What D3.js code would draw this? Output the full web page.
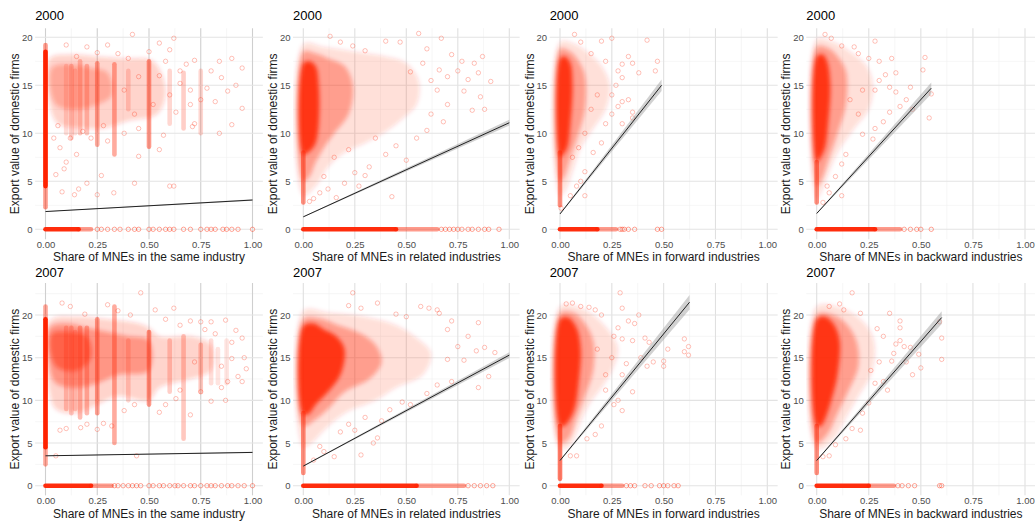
<!DOCTYPE html>
<html>
<head>
<meta charset="utf-8">
<script src="https://cdn.jsdelivr.net/npm/d3@7"></script>
<style>
  body { margin: 0; background: #fff; }
  text { font-family: "Liberation Sans", Arial, sans-serif; }
</style>
</head>
<body>
<svg width="1035" height="522"></svg>
<script>
const d3 = window.d3

// ---- data (panel order: 2000 row, then 2007 row) ----
let years = ['2000', '2000', '2000', '2000', '2007', '2007', '2007', '2007']
let xTitles = [
  'Share of MNEs in the same industry',
  'Share of MNEs in related industries',
  'Share of MNEs in forward industries',
  'Share of MNEs in backward industries'
]
let yTitle = 'Export value of domestic firms'
let xTicks = [0, 0.25, 0.5, 0.75, 1]
let yTicks = [0, 5, 10, 15, 20]

// fitted line: x0, y0, x1, y1, band half-width at x0 and at x1
let fits = [
  [0, 1.85, 1, 3.05, 0.03, 0.08],
  [0, 1.3, 1, 11.1, 0.04, 0.3],
  [0, 1.6, 0.49, 15.0, 0.05, 0.6],
  [0, 1.65, 0.55, 14.7, 0.05, 0.6],
  [0, 3.5, 1, 3.9, 0.03, 0.08],
  [0, 2.3, 1, 15.3, 0.04, 0.35],
  [0, 2.95, 0.625, 21.5, 0.05, 0.85],
  [0, 2.95, 0.6, 19.7, 0.05, 0.75]
]

// firms with zero exports: solid run end, faded run end, then single points
let zeroRuns = [[0.16, 0.22], [0.45, 0.65], [0.18, 0.27], [0.28, 0.4],
                [0.22, 0.32], [0.55, 0.78], [0.2, 0.3], [0.25, 0.37]]
let zeroPts = [
  [0.25, 0.27, 0.3, 0.333, 0.36, 0.4, 0.43, 0.45, 0.5, 0.52, 0.55, 0.58, 0.6, 0.62, 0.667, 0.7, 0.75, 0.78, 0.8, 0.82, 0.857, 0.875, 0.9, 0.93, 1],
  [0.67, 0.69, 0.71, 0.73, 0.75, 0.77, 0.8, 0.82, 0.85, 0.88, 0.9, 0.95],
  [0.29, 0.3, 0.31, 0.33, 0.36, 0.47, 0.49],
  [0.42, 0.45, 0.48, 0.5, 0.55],
  [0.333, 0.35, 0.375, 0.4, 0.42, 0.44, 0.46, 0.5, 0.52, 0.55, 0.57, 0.6, 0.625, 0.64, 0.667, 0.7, 0.72, 0.75, 0.78, 0.8, 0.82, 0.85, 0.88, 0.9, 0.93, 0.96, 1],
  [0.8, 0.83, 0.86, 0.89, 0.92],
  [0.32, 0.34, 0.36, 0.41, 0.44, 0.48, 0.5, 0.52, 0.55, 0.57],
  [0.39, 0.41, 0.44, 0.47, 0.59, 0.6]
]

// dense parts of each cloud: [opacity, x,y, x,y, ...]
let clouds = [
  [[0.2, [0.02,17.8, 0.12,18.2, 0.25,18, 0.38,17.8, 0.52,17.5, 0.58,14.5, 0.54,12, 0.4,11.3, 0.28,10.5, 0.15,10.6, 0.06,11, 0.02,13]],
   [0.25, [0.03,16.8, 0.12,17.2, 0.22,16.8, 0.3,16.3, 0.32,14, 0.25,13, 0.15,12.5, 0.05,13]]],
  [[0.15, [0,19.3, 0.1,19, 0.25,18.5, 0.4,18, 0.5,17.3, 0.56,15.5, 0.55,13, 0.48,11.5, 0.4,10.2, 0.3,9, 0.2,8, 0.12,6.5, 0.06,4.5, 0,3.5]],
   [0.35, [0,18.5, 0.06,18.3, 0.12,17.8, 0.2,17, 0.24,15, 0.22,12, 0.15,10, 0.1,8.5, 0.06,7, 0.03,5.5, 0,5]],
   [0.85, [0,17.3, 0.03,17.5, 0.06,17, 0.075,15, 0.075,11, 0.06,9, 0.035,8.2, 0,7.8]]],
  [[0.15, [0,19.5, 0.08,19.2, 0.14,18.3, 0.2,17, 0.24,15, 0.22,12.5, 0.16,10.5, 0.1,8.5, 0.06,6, 0.03,4.2, 0,3.5]],
   [0.35, [0,18.8, 0.05,18.5, 0.09,17.5, 0.12,16, 0.12,12.5, 0.09,10, 0.05,7.5, 0.02,5.5, 0,5]],
   [0.85, [0,17.8, 0.025,18, 0.05,17.3, 0.06,15, 0.05,11, 0.035,8.5, 0.015,7.8, 0,7.5]]],
  [[0.15, [0,19.8, 0.08,19.5, 0.16,18.5, 0.24,17, 0.27,15, 0.25,12.5, 0.18,10.5, 0.1,8, 0.05,5.5, 0.02,3.8, 0,3.2]],
   [0.35, [0,19, 0.06,18.8, 0.1,18, 0.14,16.5, 0.14,13, 0.1,10, 0.06,7.5, 0.02,5, 0,4.5]],
   [0.85, [0,18, 0.03,18.2, 0.05,17.5, 0.065,15, 0.055,11, 0.04,8.5, 0.02,7.5, 0,7]]],
  [[0.2, [0.02,19.3, 0.15,19.8, 0.3,19.5, 0.45,19, 0.5,18.5, 0.55,17.5, 0.7,17.5, 0.8,16.5, 0.8,13.5, 0.7,12.5, 0.55,11.5, 0.5,10, 0.35,10.5, 0.25,9.5, 0.15,8.5, 0.05,9, 0.02,11]],
   [0.35, [0.02,18.5, 0.1,19, 0.2,18.5, 0.3,18, 0.4,17.5, 0.5,17, 0.5,13.5, 0.35,13, 0.25,12, 0.15,11.5, 0.05,12, 0.02,14]],
   [0.45, [0.03,17.8, 0.12,18, 0.2,17.5, 0.22,15, 0.15,13.5, 0.05,14]]],
  [[0.15, [0,20.5, 0.12,20.3, 0.3,19.8, 0.45,18.8, 0.55,17.3, 0.62,15.5, 0.58,13, 0.45,11.5, 0.35,10, 0.2,8.5, 0.1,6.5, 0.04,5, 0,4.5]],
   [0.35, [0,19.5, 0.08,19.6, 0.18,18.7, 0.28,17.8, 0.35,16.5, 0.38,14.5, 0.32,12.5, 0.2,11, 0.12,9, 0.06,7.8, 0,7]],
   [0.85, [0,18.7, 0.05,19, 0.1,18.3, 0.16,17.5, 0.2,16, 0.18,13, 0.12,11, 0.06,9.5, 0.03,8.5, 0,8.3]]],
  [[0.15, [0,21, 0.1,20.8, 0.17,19.8, 0.24,18, 0.28,16, 0.25,13.5, 0.2,11.5, 0.14,9.5, 0.1,7.5, 0.05,4.8, 0,4.3]],
   [0.35, [0,20.2, 0.07,20.2, 0.12,19, 0.16,17, 0.16,13.5, 0.12,10.5, 0.08,8, 0.04,5.5, 0,5]],
   [0.85, [0,19.5, 0.04,19.7, 0.08,18.5, 0.1,16, 0.09,12, 0.07,9, 0.04,7.5, 0.02,7, 0,7]]],
  [[0.15, [0,21, 0.12,20.8, 0.2,19.7, 0.26,18, 0.28,16, 0.26,13, 0.2,10.5, 0.14,8, 0.08,5.5, 0,4.3]],
   [0.35, [0,20, 0.08,20, 0.14,19, 0.19,17, 0.2,14, 0.15,11, 0.1,8.5, 0.05,6, 0,5]],
   [0.85, [0,19.5, 0.04,19.8, 0.08,19, 0.11,17, 0.1,13, 0.07,10, 0.04,7.8, 0.02,7, 0,7]]]
]

// columns of stacked points at common shares: [x, yFrom, yTo, opacity]
let stripes = [
  [[0, 2.3, 19.2, 0.45], [0, 4.5, 18.5, 1], [0.1, 10, 17, 0.15], [0.125, 9.5, 17, 0.22], [0.143, 10, 16.5, 0.15],
   [0.167, 10, 17.5, 0.25], [0.2, 10, 17, 0.25], [0.25, 8.8, 17.3, 0.38], [0.333, 7.8, 17.2, 0.38], [0.4, 12.5, 16.5, 0.18],
   [0.5, 8.6, 17.5, 0.45], [0.6, 11, 16.5, 0.18], [0.667, 10.5, 16.3, 0.22], [0.75, 10, 16.5, 0.18]],
  [[0, 2.8, 8, 0.5]],
  [[0, 2.5, 8, 0.5]],
  [[0, 2.8, 7, 0.5]],
  [[0, 2.5, 21, 0.4], [0, 4.5, 19.5, 1], [0.1, 9, 18.5, 0.22], [0.125, 8.5, 18.5, 0.22], [0.143, 9, 18, 0.18],
   [0.167, 8, 18.5, 0.3], [0.2, 8.5, 18.5, 0.3], [0.25, 8.5, 19.5, 0.42], [0.333, 5, 21, 0.38], [0.4, 10, 17, 0.18],
   [0.5, 9.5, 18, 0.45], [0.6, 11, 17, 0.22], [0.667, 5.5, 17.5, 0.25], [0.75, 11, 16.5, 0.25], [0.8, 12, 17, 0.15],
   [0.833, 12, 16, 0.12], [0.875, 12, 17, 0.12]],
  [[0, 1.5, 8.5, 0.5]],
  [[0, 0.8, 7, 0.6]],
  [[0, 1.5, 7, 0.5]]
]

// sparse single firms: x,y pairs
let scatter = [
  [0.42,20.3, 0.62,19.9, 0.55,19.4, 0.3,19.2, 0.2,19.0, 0.1,19.2, 0.6,18.7, 0.72,17.6, 0.84,17.5, 0.95,16.8, 0.9,17.8,
   0.8,16.5, 0.85,15.8, 0.92,15, 0.78,14.7, 0.88,14.4, 0.95,12.6, 0.82,13.3, 0.7,13, 0.63,12.2, 0.72,11, 0.9,10.9,
   0.84,10, 0.71,10.7, 0.57,9.8, 0.45,10.5, 0.38,10, 0.3,9.2, 0.22,9.5, 0.12,9.5, 0.07,8.5, 0.1,7, 0.05,5.7, 0.09,6.3,
   0.15,7.8, 0.2,4.8, 0.25,3.6, 0.33,3.8, 0.43,4.8, 0.6,4.5, 0.62,4.5, 0.45,7.6, 0.55,8.3, 0.08,3.9, 0.14,3.6, 0.16,4.2,
   0.27,5.6, 0.38,14.5, 0.45,15.9, 0.55,16, 0.65,15.2, 0.75,13.5, 0.68,17.2, 0.58,17.5, 0.4,17.8, 0.35,18.3, 0.25,18.4,
   0.15,18.0, 0.5,18.5, 0.6,14, 0.65,16.5, 0.7,14.5, 0.52,13, 0.43,12, 0.28,10.8, 0.18,10.2, 0.06,10.8, 0.04,9.5],
  [0.56,20.4, 0.67,19.9, 0.13,20.1, 0.18,19.5, 0.4,19.6, 0.47,19.5, 0.6,18.8, 0.72,18.2, 0.87,18.0, 0.77,17.5, 0.83,17.3,
   0.85,16.3, 0.91,15.4, 0.8,15.6, 0.78,14.4, 0.86,13.8, 0.88,12.5, 0.82,12.4, 0.7,13, 0.65,14.5, 0.62,12.0, 0.68,11.2,
   0.6,10.3, 0.55,9.5, 0.45,8.7, 0.5,7.2, 0.4,7.8, 0.32,6.5, 0.3,5.6, 0.25,5.9, 0.2,4.8, 0.27,4.5, 0.43,3.4, 0.16,3.3,
   0.12,4.2, 0.08,3.8, 0.05,3.2, 0.03,2.9, 0.1,5.5, 0.15,7.5, 0.22,8.3, 0.35,9.5, 0.52,16.4, 0.58,17.3, 0.66,16.6,
   0.7,15.9, 0.75,16.5, 0.3,18.6, 0.24,19.1, 0.62,15.5],
  [0.42,19.7, 0.47,17.5, 0.46,16.5, 0.38,16.3, 0.35,17.3, 0.33,18.0, 0.3,17.2, 0.28,16.5, 0.3,15.8, 0.27,15, 0.25,14,
   0.3,13.3, 0.33,13.5, 0.35,12.2, 0.28,12.8, 0.25,12, 0.22,11, 0.3,11, 0.35,11.6, 0.2,9, 0.16,8, 0.12,6, 0.1,5,
   0.08,4.5, 0.05,3.5, 0.12,3.5, 0.25,19.9, 0.2,19.6, 0.1,19.5, 0.07,20.3, 0.15,18.3, 0.22,17.5, 0.18,14, 0.15,12.5,
   0.12,10, 0.09,8.5, 0.06,7.5, 0.005,2.2],
  [0.04,20.3, 0.07,19.9, 0.12,19.1, 0.18,19.0, 0.28,19.6, 0.2,18.3, 0.3,17.5, 0.25,17.8, 0.36,17.8, 0.38,16.3, 0.33,16.1,
   0.3,15.5, 0.28,14.5, 0.35,14.8, 0.38,14.3, 0.45,14.8, 0.52,17.9, 0.51,16.6, 0.55,14.1, 0.54,11.6, 0.46,12.5, 0.43,13.5,
   0.4,12.8, 0.35,12.2, 0.32,11.2, 0.28,10.5, 0.22,9.9, 0.27,9.4, 0.14,7.8, 0.12,6.8, 0.09,5.5, 0.05,4.5, 0.06,3.8,
   0.12,3.5, 0.03,2.8, 0.2,12, 0.16,13.5, 0.22,14.5],
  [0.46,22.6, 0.3,21.2, 0.53,20.6, 0.62,20.8, 0.08,21.4, 0.12,21, 0.19,20.1, 0.41,20, 0.35,20.5, 0.7,19.3, 0.75,19.2,
   0.8,19.2, 0.87,19.4, 0.92,18.2, 0.95,17.3, 0.9,16.8, 0.96,15, 0.9,14.9, 0.97,13.7, 0.93,12.8, 0.95,12.2, 0.88,12.2,
   0.85,11.5, 0.87,10, 0.8,9.9, 0.75,11, 0.7,8.3, 0.63,10.2, 0.55,8.6, 0.43,9.5, 0.38,8.8, 0.32,7, 0.25,6.6, 0.28,7.3,
   0.2,7.2, 0.17,6.8, 0.1,6.7, 0.07,6.5, 0.05,3.5, 0.44,3.5, 0.58,9.5, 0.65,11.2, 0.72,14.5, 0.85,14, 0.82,17.8,
   0.77,18.3, 0.65,18.8, 0.58,19.5],
  [0.24,22.6, 0.22,21.1, 0.28,20.8, 0.36,21.4, 0.57,21, 0.61,20.8, 0.65,20.6, 0.66,20.2, 0.45,20.1, 0.5,19.8, 0.72,19.3,
   0.85,19.1, 0.7,18.3, 0.8,17.5, 0.75,16.3, 0.88,16.2, 0.93,15.6, 0.84,15.8, 0.78,14.7, 0.7,14.8, 0.9,12.8, 0.85,11.5,
   0.72,12.2, 0.65,11.8, 0.6,10.8, 0.52,9.5, 0.48,9.8, 0.42,8.9, 0.38,7.6, 0.36,5.6, 0.34,5, 0.25,6.5, 0.28,3.6,
   0.15,3.4, 0.08,4.6, 0.1,4, 0.05,3, 0.18,6.3, 0.3,8, 0.22,7.2],
  [0.29,22.6, 0.03,21.3, 0.06,21.4, 0.1,21, 0.14,20.9, 0.17,20.6, 0.2,20, 0.3,20.8, 0.38,20, 0.33,19.3, 0.36,19,
   0.28,18.5, 0.26,17.5, 0.3,17.2, 0.35,17, 0.41,17.3, 0.43,16.8, 0.39,15, 0.42,14, 0.45,14.5, 0.5,14.6, 0.5,14,
   0.52,16, 0.6,17.2, 0.62,16.3, 0.62,15.3, 0.6,15.7, 0.32,14.3, 0.3,13, 0.35,11, 0.28,10, 0.3,8.8, 0.26,9.5, 0.22,11.2,
   0.2,7, 0.17,6, 0.13,5.5, 0.08,3.5, 0.05,3.5, 0.22,13, 0.25,15, 0.18,16],
  [0.17,22.6, 0.06,21, 0.11,21.3, 0.13,20.6, 0.21,20.2, 0.35,20.2, 0.4,19.3, 0.4,18.5, 0.29,18.4, 0.32,17.5, 0.4,17,
   0.42,16.3, 0.38,16.6, 0.45,16.2, 0.49,15.4, 0.59,19.2, 0.6,17.3, 0.6,14.8, 0.5,13.8, 0.46,13, 0.43,14.5, 0.36,14.6,
   0.3,14.5, 0.32,12.2, 0.34,11.2, 0.28,12, 0.25,9.7, 0.22,8.5, 0.21,6.5, 0.17,6.7, 0.14,5.5, 0.09,4.8, 0.06,3.5,
   0.03,3.4, 0.37,15.5, 0.26,13.5]
]

// ---- layout ----
let colZero = [45.5, 303.3, 560, 816.7]   // pixel of x = 0
let colUnit = [207, 206, 207.3, 208.3]    // pixels per unit share
let rowY = [[229.3, 37.3], [485.7, 315]]  // pixels of y = 0 and y = 20
let rowDomain = [[-1.04, 20.94], [-1.13, 23.75]]
let red = '#ff2200'

let svg = d3.select('svg')
let pairs = flat => d3.range(0, flat.length, 2).map(k => [flat[k], flat[k + 1]])

// soft edge for the dense parts of the clouds
svg.append('defs')
  .append('filter')
    .attr('id', 'soft')
    .attr('x', '-20%').attr('y', '-20%').attr('width', '140%').attr('height', '140%')
  .append('feGaussianBlur')
    .attr('stdDeviation', 2.2)

years.forEach((year, i) => {
  let col = i % 4
  let row = Math.floor(i / 4)

  let xScale = d3.scaleLinear()
                  .domain([0, 1])
                  .range([colZero[col], colZero[col] + colUnit[col]])
  let yScale = d3.scaleLinear()
                  .domain([0, 20])
                  .range(rowY[row])

  let left = xScale(-0.05)
  let right = xScale(1.05)
  let top = yScale(rowDomain[row][1])
  let bottom = yScale(rowDomain[row][0])

  let g = svg.append('g')

  // grid
  let minorX = [0.125, 0.375, 0.625, 0.875]
  let minorY = row === 0 ? [2.5, 7.5, 12.5, 17.5] : [2.5, 7.5, 12.5, 17.5, 22.5]
  g.selectAll('.mx').data(minorX).enter().append('line')
      .attr('x1', d => xScale(d)).attr('x2', d => xScale(d))
      .attr('y1', top).attr('y2', bottom)
      .attr('stroke', '#f0f0f0').attr('stroke-width', 0.6)
  g.selectAll('.my').data(minorY).enter().append('line')
      .attr('y1', d => yScale(d)).attr('y2', d => yScale(d))
      .attr('x1', left).attr('x2', right)
      .attr('stroke', '#f0f0f0').attr('stroke-width', 0.6)
  g.selectAll('.gx').data(xTicks).enter().append('line')
      .attr('x1', d => xScale(d)).attr('x2', d => xScale(d))
      .attr('y1', top).attr('y2', bottom)
      .attr('stroke', col === 0 ? '#cfcfcf' : '#e0e0e0').attr('stroke-width', 1.1)
  g.selectAll('.gy').data(yTicks).enter().append('line')
      .attr('y1', d => yScale(d)).attr('y2', d => yScale(d))
      .attr('x1', left).attr('x2', right)
      .attr('stroke', '#e3e3e3').attr('stroke-width', 1.1)

  let clipId = 'clip' + i
  svg.append('clipPath').attr('id', clipId)
    .append('rect')
      .attr('x', left).attr('y', top)
      .attr('width', right - left).attr('height', bottom - top)

  let plot = g.append('g').attr('clip-path', `url(#${clipId})`)

  // dense parts of the cloud
  let area = d3.line()
                .x(d => xScale(d[0]))
                .y(d => yScale(d[1]))
                .curve(d3.curveCatmullRomClosed.alpha(0.5))
  plot.append('g')
      .attr('filter', 'url(#soft)')
    .selectAll('.cloud')
    .data(clouds[i])
    .enter()
    .append('path')
      .attr('d', d => area(pairs(d[1])))
      .attr('fill', red)
      .attr('fill-opacity', d => d[0])

  // columns of stacked points
  plot.selectAll('.stripe')
    .data(stripes[i])
    .enter()
    .append('line')
      .attr('x1', d => xScale(d[0])).attr('x2', d => xScale(d[0]))
      .attr('y1', d => yScale(d[1])).attr('y2', d => yScale(d[2]))
      .attr('stroke', red)
      .attr('stroke-width', 4.6)
      .attr('stroke-linecap', 'round')
      .attr('stroke-opacity', d => d[3])

  // single firms
  plot.selectAll('.pt')
    .data(pairs(scatter[i]))
    .enter()
    .append('circle')
      .attr('cx', d => xScale(d[0]))
      .attr('cy', d => yScale(d[1]))
      .attr('r', 2.2)
      .attr('fill', 'none')
      .attr('stroke', red)
      .attr('stroke-width', 0.8)
      .attr('stroke-opacity', 0.35)

  // zero exporters
  let z = zeroRuns[i]
  plot.append('line')
      .attr('x1', xScale(0)).attr('x2', xScale(z[0]))
      .attr('y1', yScale(0)).attr('y2', yScale(0))
      .attr('stroke', red).attr('stroke-width', 4.6)
      .attr('stroke-linecap', 'round').attr('stroke-opacity', 0.95)
  plot.append('line')
      .attr('x1', xScale(z[0])).attr('x2', xScale(z[1]))
      .attr('y1', yScale(0)).attr('y2', yScale(0))
      .attr('stroke', red).attr('stroke-width', 4.6)
      .attr('stroke-linecap', 'round').attr('stroke-opacity', 0.45)
  plot.selectAll('.zp')
    .data(zeroPts[i])
    .enter()
    .append('circle')
      .attr('cx', d => xScale(d))
      .attr('cy', yScale(0))
      .attr('r', 2.2)
      .attr('fill', 'none')
      .attr('stroke', red)
      .attr('stroke-width', 0.8)
      .attr('stroke-opacity', 0.5)

  // regression line with confidence band
  let f = fits[i]
  let band = [[f[0], f[1] + f[4]], [f[2], f[3] + f[5]], [f[2], f[3] - f[5]], [f[0], f[1] - f[4]]]
  plot.append('path')
      .attr('d', d3.line().x(d => xScale(d[0])).y(d => yScale(d[1]))(band) + 'Z')
      .attr('fill', '#999')
      .attr('fill-opacity', 0.45)
  plot.append('line')
      .attr('x1', xScale(f[0])).attr('y1', yScale(f[1]))
      .attr('x2', xScale(f[2])).attr('y2', yScale(f[3]))
      .attr('stroke', '#222')
      .attr('stroke-width', 1)

  // axes
  let xAxis = g.append('g')
      .attr('transform', `translate(0,${bottom})`)
      .call(d3.axisBottom(xScale).tickValues(xTicks).tickFormat(d3.format('.2f')).tickSize(0).tickPadding(1.5))
  let yAxis = g.append('g')
      .attr('transform', `translate(${left},0)`)
      .call(d3.axisLeft(yScale).tickValues(yTicks).tickSize(0).tickPadding(2.5))
  ;[xAxis, yAxis].forEach(a => {
    a.select('.domain').remove()
    a.selectAll('text')
      .attr('font-size', 9.5)
      .attr('fill', '#4d4d4d')
      .attr('font-family', '"Liberation Sans", Arial, sans-serif')
  })

  // titles
  g.append('text')
      .attr('x', (left + right) / 2)
      .attr('y', row === 0 ? 261 : 517.5)
      .attr('text-anchor', 'middle')
      .attr('font-size', 12)
      .attr('fill', '#1a1a1a')
      .text(xTitles[col])
  g.append('text')
      .attr('transform', `translate(${left - 16},${(top + bottom) / 2}) rotate(-90)`)
      .attr('text-anchor', 'middle')
      .attr('font-size', 12)
      .attr('fill', '#1a1a1a')
      .text(yTitle)
  g.append('text')
      .attr('x', left)
      .attr('y', row === 0 ? 20 : 277)
      .attr('font-size', 13)
      .attr('fill', '#000')
      .text(year)
})
</script>
</body>
</html>
